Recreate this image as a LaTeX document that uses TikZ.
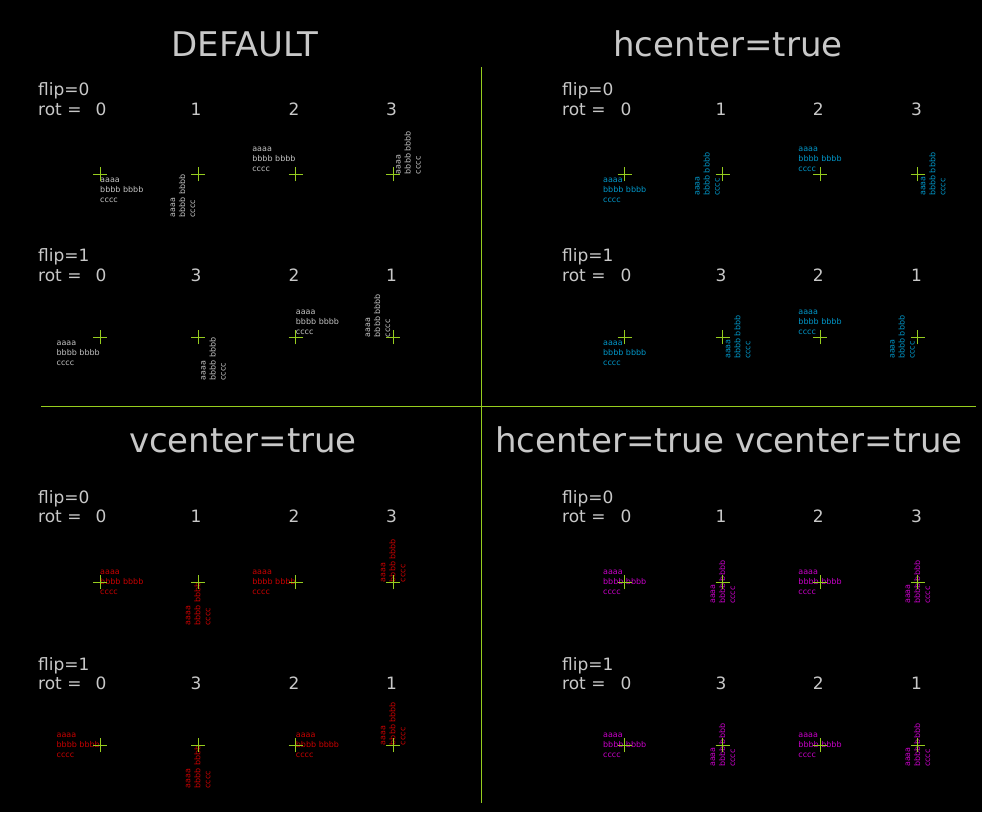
\documentclass[tikz,border=0pt]{standalone}
\usepackage{fontspec}
\setmainfont{DejaVu Sans}
\definecolor{bgc}{RGB}{0,0,0}
\definecolor{lblc}{RGB}{200,200,200}
\definecolor{crossc}{RGB}{150,205,30}
\definecolor{defc}{RGB}{195,195,195}
\definecolor{hcc}{RGB}{0,150,200}
\definecolor{vcc}{RGB}{200,0,0}
\definecolor{hvc}{RGB}{200,0,200}
\tikzset{
  titlestyle/.style={text=lblc, font=\fontsize{34}{40}\selectfont, inner sep=0, anchor=base},
  lblstyle/.style={text=lblc, font=\fontsize{17}{20}\selectfont, inner sep=0, anchor=base west},
  numstyle/.style={text=lblc, font=\fontsize{17}{20}\selectfont, inner sep=0, anchor=base},
  blk/.style={font=\fontsize{8}{10}\selectfont, inner sep=0, align=left},
  crossline/.style={draw=crossc, line width=0.9pt},
  sepline/.style={draw=crossc, line width=0.9pt}
}
\newcommand\blk[6]{\node[blk, text=#6, rotate=#4, anchor=#5] (#1) at (#2,#3) {\rule{0pt}{7.5pt}aaaa\\bbbb bbbb\\cccc\rule[-2.8pt]{0pt}{2.8pt}};}
\newcommand\mycross[3]{\coordinate (#1) at (#2,#3); \draw[crossline] ([xshift=-7pt]#1) -- ([xshift=7pt]#1) ([yshift=-7pt]#1) -- ([yshift=7pt]#1);}
\begin{document}
\begin{tikzpicture}[x=1pt,y=-1pt]
\fill[bgc] (0,0) rectangle (982,812);
\useasboundingbox (0,0) rectangle (982,812);
% separators
\coordinate (vtop) at (481,67); \coordinate (vbot) at (481,803);
\coordinate (hl) at (41,406); \coordinate (hr) at (976,406);
\draw[sepline] (vtop) -- (vbot);
\draw[sepline] (hl) -- (hr);
% titles
\node[titlestyle] (t1) at (245,56) {DEFAULT};
\node[titlestyle] (t2) at (728,56) {hcenter=true};
\node[titlestyle] (t3) at (243,452) {vcenter=true};
\node[titlestyle] (t4) at (729,452) {hcenter=true vcenter=true};
% labels top-left
\node[lblstyle] (a1) at (38,95.7) {flip=0};
\node[lblstyle] (a2) at (38,115.7) {rot =};
\node[numstyle] (a3) at (101,115.7) {0};
\node[numstyle] (a4) at (196,115.7) {1};
\node[numstyle] (a5) at (294,115.7) {2};
\node[numstyle] (a6) at (391.5,115.7) {3};
\node[lblstyle] (b1) at (38,261.7) {flip=1};
\node[lblstyle] (b2) at (38,281.7) {rot =};
\node[numstyle] (b3) at (101,281.7) {0};
\node[numstyle] (b4) at (196,281.7) {3};
\node[numstyle] (b5) at (294,281.7) {2};
\node[numstyle] (b6) at (391.5,281.7) {1};
% labels top-right
\node[lblstyle] (c1) at (562,95.7) {flip=0};
\node[lblstyle] (c2) at (562,115.7) {rot =};
\node[numstyle] (c3) at (626,115.7) {0};
\node[numstyle] (c4) at (721,115.7) {1};
\node[numstyle] (c5) at (818.3,115.7) {2};
\node[numstyle] (c6) at (916.5,115.7) {3};
\node[lblstyle] (d1) at (562,261.7) {flip=1};
\node[lblstyle] (d2) at (562,281.7) {rot =};
\node[numstyle] (d3) at (626,281.7) {0};
\node[numstyle] (d4) at (721,281.7) {3};
\node[numstyle] (d5) at (818.3,281.7) {2};
\node[numstyle] (d6) at (916.5,281.7) {1};
% labels bottom-left
\node[lblstyle] (e1) at (38,503.3) {flip=0};
\node[lblstyle] (e2) at (38,522.7) {rot =};
\node[numstyle] (e3) at (101,522.7) {0};
\node[numstyle] (e4) at (196,522.7) {1};
\node[numstyle] (e5) at (294,522.7) {2};
\node[numstyle] (e6) at (391.5,522.7) {3};
\node[lblstyle] (f1) at (38,670) {flip=1};
\node[lblstyle] (f2) at (38,689.3) {rot =};
\node[numstyle] (f3) at (101,689.3) {0};
\node[numstyle] (f4) at (196,689.3) {3};
\node[numstyle] (f5) at (294,689.3) {2};
\node[numstyle] (f6) at (391.5,689.3) {1};
% labels bottom-right
\node[lblstyle] (g1) at (562,503.3) {flip=0};
\node[lblstyle] (g2) at (562,522.7) {rot =};
\node[numstyle] (g3) at (626,522.7) {0};
\node[numstyle] (g4) at (721,522.7) {1};
\node[numstyle] (g5) at (818.3,522.7) {2};
\node[numstyle] (g6) at (916.5,522.7) {3};
\node[lblstyle] (h1) at (562,670) {flip=1};
\node[lblstyle] (h2) at (562,689.3) {rot =};
\node[numstyle] (h3) at (626,689.3) {0};
\node[numstyle] (h4) at (721,689.3) {3};
\node[numstyle] (h5) at (818.3,689.3) {2};
\node[numstyle] (h6) at (916.5,689.3) {1};
% text blocks: DEFAULT
\blk{p1}{100}{174.3}{0}{north west}{defc}
\blk{p2}{198}{174.3}{90}{south east}{defc}
\blk{p3}{295.7}{174.3}{0}{south east}{defc}
\blk{p4}{393}{174.3}{90}{north west}{defc}
\blk{q1}{100}{337.3}{0}{north east}{defc}
\blk{q2}{198}{337.3}{90}{north east}{defc}
\blk{q3}{295.7}{337.3}{0}{south west}{defc}
\blk{q4}{393}{337.3}{90}{south west}{defc}
% hcenter
\blk{r1}{624.7}{174.3}{0}{north}{hcc}
\blk{r2}{722.7}{174.3}{90}{south}{hcc}
\blk{r3}{820}{174.3}{0}{south}{hcc}
\blk{r4}{917.7}{174.3}{90}{north}{hcc}
\blk{s1}{624.7}{337.3}{0}{north}{hcc}
\blk{s2}{722.7}{337.3}{90}{north}{hcc}
\blk{s3}{820}{337.3}{0}{south}{hcc}
\blk{s4}{917.7}{337.3}{90}{south}{hcc}
% vcenter
\blk{u1}{100}{582.3}{0}{west}{vcc}
\blk{u2}{198}{582.3}{90}{east}{vcc}
\blk{u3}{295.7}{582.3}{0}{east}{vcc}
\blk{u4}{393}{582.3}{90}{west}{vcc}
\blk{v1}{100}{745.3}{0}{east}{vcc}
\blk{v2}{198}{745.3}{90}{east}{vcc}
\blk{v3}{295.7}{745.3}{0}{west}{vcc}
\blk{v4}{393}{745.3}{90}{west}{vcc}
% hcenter vcenter
\blk{w1}{624.7}{582.3}{0}{center}{hvc}
\blk{w2}{722.7}{582.3}{90}{center}{hvc}
\blk{w3}{820}{582.3}{0}{center}{hvc}
\blk{w4}{917.7}{582.3}{90}{center}{hvc}
\blk{z1}{624.7}{745.3}{0}{center}{hvc}
\blk{z2}{722.7}{745.3}{90}{center}{hvc}
\blk{z3}{820}{745.3}{0}{center}{hvc}
\blk{z4}{917.7}{745.3}{90}{center}{hvc}
% crosses
\mycross{xa1}{100}{174.3}\mycross{xa2}{198}{174.3}\mycross{xa3}{295.7}{174.3}\mycross{xa4}{393}{174.3}
\mycross{xb1}{100}{337.3}\mycross{xb2}{198}{337.3}\mycross{xb3}{295.7}{337.3}\mycross{xb4}{393}{337.3}
\mycross{xc1}{624.7}{174.3}\mycross{xc2}{722.7}{174.3}\mycross{xc3}{820}{174.3}\mycross{xc4}{917.7}{174.3}
\mycross{xd1}{624.7}{337.3}\mycross{xd2}{722.7}{337.3}\mycross{xd3}{820}{337.3}\mycross{xd4}{917.7}{337.3}
\mycross{xe1}{100}{582.3}\mycross{xe2}{198}{582.3}\mycross{xe3}{295.7}{582.3}\mycross{xe4}{393}{582.3}
\mycross{xf1}{100}{745.3}\mycross{xf2}{198}{745.3}\mycross{xf3}{295.7}{745.3}\mycross{xf4}{393}{745.3}
\mycross{xg1}{624.7}{582.3}\mycross{xg2}{722.7}{582.3}\mycross{xg3}{820}{582.3}\mycross{xg4}{917.7}{582.3}
\mycross{xh1}{624.7}{745.3}\mycross{xh2}{722.7}{745.3}\mycross{xh3}{820}{745.3}\mycross{xh4}{917.7}{745.3}
\end{tikzpicture}
\end{document}
